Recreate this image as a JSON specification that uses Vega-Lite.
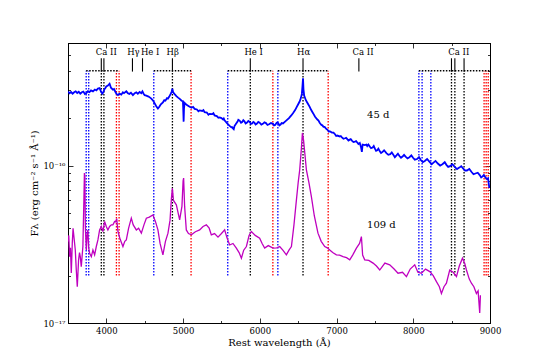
{
  "$schema": "https://vega.github.io/schema/vega-lite/v6.json",
  "width": 422,
  "height": 280,
  "autosize": {"type": "none"},
  "padding": {"left": 68, "top": 43, "right": 55, "bottom": 40},
  "background": "white",
  "config": {
    "view": {"stroke": "black", "strokeWidth": 1},
    "axis": {"labelFont": "DejaVu Serif", "titleFont": "DejaVu Serif", "labelFontSize": 8.5, "titleFontSize": 10, "titleFontWeight": "normal", "labelColor": "black", "titleColor": "black", "domainColor": "black", "tickColor": "black", "grid": false, "tickWidth": 0.8},
    "text": {"font": "DejaVu Serif", "color": "black"}
  },
  "datasets": {
    "blueV": [{"wl": 3737}, {"wl": 3770}, {"wl": 4618}, {"wl": 5582}, {"wl": 6235}, {"wl": 8073}, {"wl": 8115}, {"wl": 8229}],
    "blackV": [{"wl": 3934}, {"wl": 3968}, {"wl": 4861}, {"wl": 5876}, {"wl": 6563}, {"wl": 8498}, {"wl": 8542}, {"wl": 8662}],
    "redV": [{"wl": 4131}, {"wl": 4166}, {"wl": 5104}, {"wl": 6170}, {"wl": 6891}, {"wl": 8923}, {"wl": 8950}, {"wl": 8977}],
    "bars": [{"x1": 3737, "x2": 4166}, {"x1": 4618, "x2": 5104}, {"x1": 5582, "x2": 6170}, {"x1": 6235, "x2": 6891}, {"x1": 8073, "x2": 9000}],
    "ids": [{"wl": 3934}, {"wl": 3968}, {"wl": 4340}, {"wl": 4471}, {"wl": 4861}, {"wl": 5876}, {"wl": 6563}, {"wl": 7291}, {"wl": 8498}, {"wl": 8542}, {"wl": 8662}],
    "labels": [{"t": "Ca II", "wl": 3999}, {"t": "Hγ", "wl": 4353}, {"t": "He I", "wl": 4571}, {"t": "Hβ", "wl": 4864}, {"t": "He I", "wl": 5920}, {"t": "Hα", "wl": 6571}, {"t": "Ca II", "wl": 7346}, {"t": "Ca II", "wl": 8594}],
    "epochs": [{"t": "45 d", "wl": 7543, "f": 2.1e-16}, {"t": "109 d", "wl": 7585, "f": 0.42e-16}],
    "s45": [
      {"wl": 3500, "f": 2.95e-16}, {"wl": 3520, "f": 2.88e-16}, {"wl": 3540, "f": 2.93e-16}, {"wl": 3560, "f": 2.86e-16}, {"wl": 3580, "f": 2.92e-16}, {"wl": 3600, "f": 2.96e-16}, {"wl": 3620, "f": 2.89e-16}, {"wl": 3640, "f": 2.94e-16}, {"wl": 3660, "f": 2.86e-16}, {"wl": 3680, "f": 2.92e-16}, {"wl": 3700, "f": 2.95e-16}, {"wl": 3720, "f": 2.85e-16}, {"wl": 3739, "f": 2.89e-16}, {"wl": 3760, "f": 2.97e-16}, {"wl": 3780, "f": 2.93e-16}, {"wl": 3800, "f": 3.00e-16}, {"wl": 3825, "f": 2.96e-16}, {"wl": 3850, "f": 3.04e-16}, {"wl": 3870, "f": 3.00e-16}, {"wl": 3890, "f": 3.08e-16}, {"wl": 3912, "f": 3.10e-16}, {"wl": 3930, "f": 2.95e-16}, {"wl": 3947, "f": 2.86e-16}, {"wl": 3960, "f": 2.92e-16}, {"wl": 3975, "f": 3.05e-16}, {"wl": 3990, "f": 3.12e-16}, {"wl": 3999, "f": 3.18e-16}, {"wl": 4020, "f": 3.22e-16}, {"wl": 4042, "f": 3.31e-16}, {"wl": 4060, "f": 3.12e-16}, {"wl": 4085, "f": 3.03e-16}, {"wl": 4100, "f": 3.06e-16}, {"wl": 4120, "f": 2.92e-16}, {"wl": 4135, "f": 2.84e-16}, {"wl": 4151, "f": 2.80e-16}, {"wl": 4170, "f": 2.86e-16}, {"wl": 4195, "f": 2.82e-16}, {"wl": 4215, "f": 2.92e-16}, {"wl": 4230, "f": 2.88e-16}, {"wl": 4260, "f": 2.96e-16}, {"wl": 4280, "f": 2.88e-16}, {"wl": 4300, "f": 2.85e-16}, {"wl": 4320, "f": 2.90e-16}, {"wl": 4346, "f": 2.80e-16}, {"wl": 4370, "f": 2.88e-16}, {"wl": 4390, "f": 2.92e-16}, {"wl": 4410, "f": 2.86e-16}, {"wl": 4434, "f": 2.93e-16}, {"wl": 4455, "f": 2.88e-16}, {"wl": 4470, "f": 2.96e-16}, {"wl": 4485, "f": 2.86e-16}, {"wl": 4499, "f": 2.80e-16}, {"wl": 4520, "f": 2.78e-16}, {"wl": 4550, "f": 2.74e-16}, {"wl": 4570, "f": 2.70e-16}, {"wl": 4586, "f": 2.66e-16}, {"wl": 4610, "f": 2.58e-16}, {"wl": 4630, "f": 2.48e-16}, {"wl": 4650, "f": 2.38e-16}, {"wl": 4672, "f": 2.30e-16}, {"wl": 4690, "f": 2.36e-16}, {"wl": 4710, "f": 2.45e-16}, {"wl": 4737, "f": 2.52e-16}, {"wl": 4755, "f": 2.60e-16}, {"wl": 4770, "f": 2.58e-16}, {"wl": 4790, "f": 2.68e-16}, {"wl": 4803, "f": 2.66e-16}, {"wl": 4820, "f": 2.74e-16}, {"wl": 4840, "f": 2.86e-16}, {"wl": 4852, "f": 2.95e-16}, {"wl": 4860, "f": 3.08e-16}, {"wl": 4870, "f": 2.92e-16}, {"wl": 4890, "f": 2.84e-16}, {"wl": 4912, "f": 2.76e-16}, {"wl": 4935, "f": 2.70e-16}, {"wl": 4960, "f": 2.64e-16}, {"wl": 4980, "f": 2.58e-16}, {"wl": 4998, "f": 2.56e-16}, {"wl": 5003, "f": 2.20e-16}, {"wl": 5007, "f": 1.90e-16}, {"wl": 5012, "f": 2.30e-16}, {"wl": 5020, "f": 2.50e-16}, {"wl": 5050, "f": 2.42e-16}, {"wl": 5085, "f": 2.36e-16}, {"wl": 5110, "f": 2.33e-16}, {"wl": 5130, "f": 2.36e-16}, {"wl": 5150, "f": 2.29e-16}, {"wl": 5180, "f": 2.27e-16}, {"wl": 5200, "f": 2.21e-16}, {"wl": 5216, "f": 2.24e-16}, {"wl": 5250, "f": 2.22e-16}, {"wl": 5265, "f": 2.25e-16}, {"wl": 5280, "f": 2.18e-16}, {"wl": 5310, "f": 2.17e-16}, {"wl": 5330, "f": 2.10e-16}, {"wl": 5346, "f": 2.13e-16}, {"wl": 5380, "f": 2.12e-16}, {"wl": 5395, "f": 2.15e-16}, {"wl": 5410, "f": 2.08e-16}, {"wl": 5440, "f": 2.06e-16}, {"wl": 5460, "f": 2.01e-16}, {"wl": 5477, "f": 2.02e-16}, {"wl": 5500, "f": 2.00e-16}, {"wl": 5520, "f": 1.96e-16}, {"wl": 5530, "f": 1.99e-16}, {"wl": 5540, "f": 1.94e-16}, {"wl": 5564, "f": 1.88e-16}, {"wl": 5575, "f": 1.85e-16}, {"wl": 5590, "f": 1.82e-16}, {"wl": 5610, "f": 1.78e-16}, {"wl": 5630, "f": 1.75e-16}, {"wl": 5640, "f": 1.75e-16}, {"wl": 5650, "f": 1.72e-16}, {"wl": 5660, "f": 1.70e-16}, {"wl": 5670, "f": 1.78e-16}, {"wl": 5690, "f": 1.84e-16}, {"wl": 5710, "f": 1.90e-16}, {"wl": 5720, "f": 1.95e-16}, {"wl": 5737, "f": 1.93e-16}, {"wl": 5755, "f": 1.87e-16}, {"wl": 5770, "f": 1.89e-16}, {"wl": 5785, "f": 1.94e-16}, {"wl": 5800, "f": 1.91e-16}, {"wl": 5815, "f": 1.85e-16}, {"wl": 5830, "f": 1.87e-16}, {"wl": 5850, "f": 1.92e-16}, {"wl": 5868, "f": 1.89e-16}, {"wl": 5885, "f": 1.84e-16}, {"wl": 5900, "f": 1.85e-16}, {"wl": 5915, "f": 1.89e-16}, {"wl": 5930, "f": 1.87e-16}, {"wl": 5945, "f": 1.82e-16}, {"wl": 5960, "f": 1.84e-16}, {"wl": 5980, "f": 1.89e-16}, {"wl": 5998, "f": 1.87e-16}, {"wl": 6020, "f": 1.82e-16}, {"wl": 6040, "f": 1.84e-16}, {"wl": 6060, "f": 1.88e-16}, {"wl": 6080, "f": 1.86e-16}, {"wl": 6100, "f": 1.81e-16}, {"wl": 6120, "f": 1.83e-16}, {"wl": 6145, "f": 1.86e-16}, {"wl": 6172, "f": 1.84e-16}, {"wl": 6185, "f": 1.80e-16}, {"wl": 6200, "f": 1.81e-16}, {"wl": 6220, "f": 1.87e-16}, {"wl": 6240, "f": 1.86e-16}, {"wl": 6255, "f": 1.80e-16}, {"wl": 6270, "f": 1.82e-16}, {"wl": 6285, "f": 1.86e-16}, {"wl": 6302, "f": 1.85e-16}, {"wl": 6340, "f": 1.92e-16}, {"wl": 6380, "f": 2.00e-16}, {"wl": 6410, "f": 2.08e-16}, {"wl": 6432, "f": 2.15e-16}, {"wl": 6460, "f": 2.25e-16}, {"wl": 6480, "f": 2.35e-16}, {"wl": 6500, "f": 2.45e-16}, {"wl": 6519, "f": 2.55e-16}, {"wl": 6535, "f": 2.68e-16}, {"wl": 6548, "f": 2.85e-16}, {"wl": 6556, "f": 3.20e-16}, {"wl": 6563, "f": 3.58e-16}, {"wl": 6569, "f": 3.05e-16}, {"wl": 6578, "f": 2.78e-16}, {"wl": 6600, "f": 2.60e-16}, {"wl": 6625, "f": 2.48e-16}, {"wl": 6650, "f": 2.36e-16}, {"wl": 6670, "f": 2.25e-16}, {"wl": 6694, "f": 2.15e-16}, {"wl": 6720, "f": 2.04e-16}, {"wl": 6750, "f": 1.96e-16}, {"wl": 6765, "f": 1.93e-16}, {"wl": 6780, "f": 1.87e-16}, {"wl": 6803, "f": 1.81e-16}, {"wl": 6815, "f": 1.80e-16}, {"wl": 6830, "f": 1.76e-16}, {"wl": 6845, "f": 1.76e-16}, {"wl": 6860, "f": 1.72e-16}, {"wl": 6885, "f": 1.68e-16}, {"wl": 6900, "f": 1.64e-16}, {"wl": 6911, "f": 1.65e-16}, {"wl": 6940, "f": 1.62e-16}, {"wl": 6960, "f": 1.62e-16}, {"wl": 6980, "f": 1.58e-16}, {"wl": 6995, "f": 1.54e-16}, {"wl": 7010, "f": 1.55e-16}, {"wl": 7042, "f": 1.53e-16}, {"wl": 7055, "f": 1.54e-16}, {"wl": 7070, "f": 1.51e-16}, {"wl": 7090, "f": 1.48e-16}, {"wl": 7110, "f": 1.49e-16}, {"wl": 7125, "f": 1.50e-16}, {"wl": 7140, "f": 1.47e-16}, {"wl": 7155, "f": 1.44e-16}, {"wl": 7172, "f": 1.46e-16}, {"wl": 7185, "f": 1.47e-16}, {"wl": 7200, "f": 1.44e-16}, {"wl": 7220, "f": 1.41e-16}, {"wl": 7240, "f": 1.42e-16}, {"wl": 7255, "f": 1.43e-16}, {"wl": 7270, "f": 1.40e-16}, {"wl": 7285, "f": 1.37e-16}, {"wl": 7303, "f": 1.39e-16}, {"wl": 7320, "f": 1.30e-16}, {"wl": 7330, "f": 1.22e-16}, {"wl": 7340, "f": 1.36e-16}, {"wl": 7370, "f": 1.35e-16}, {"wl": 7390, "f": 1.36e-16}, {"wl": 7400, "f": 1.33e-16}, {"wl": 7415, "f": 1.36e-16}, {"wl": 7433, "f": 1.32e-16}, {"wl": 7450, "f": 1.29e-16}, {"wl": 7470, "f": 1.30e-16}, {"wl": 7485, "f": 1.33e-16}, {"wl": 7500, "f": 1.28e-16}, {"wl": 7515, "f": 1.24e-16}, {"wl": 7530, "f": 1.25e-16}, {"wl": 7545, "f": 1.28e-16}, {"wl": 7564, "f": 1.23e-16}, {"wl": 7580, "f": 1.20e-16}, {"wl": 7600, "f": 1.22e-16}, {"wl": 7620, "f": 1.25e-16}, {"wl": 7650, "f": 1.20e-16}, {"wl": 7675, "f": 1.17e-16}, {"wl": 7700, "f": 1.18e-16}, {"wl": 7720, "f": 1.21e-16}, {"wl": 7740, "f": 1.17e-16}, {"wl": 7760, "f": 1.13e-16}, {"wl": 7781, "f": 1.16e-16}, {"wl": 7800, "f": 1.19e-16}, {"wl": 7820, "f": 1.15e-16}, {"wl": 7840, "f": 1.12e-16}, {"wl": 7860, "f": 1.14e-16}, {"wl": 7880, "f": 1.17e-16}, {"wl": 7900, "f": 1.14e-16}, {"wl": 7925, "f": 1.11e-16}, {"wl": 7950, "f": 1.13e-16}, {"wl": 7975, "f": 1.16e-16}, {"wl": 7997, "f": 1.12e-16}, {"wl": 8020, "f": 1.09e-16}, {"wl": 8050, "f": 1.10e-16}, {"wl": 8075, "f": 1.13e-16}, {"wl": 8100, "f": 1.08e-16}, {"wl": 8125, "f": 1.05e-16}, {"wl": 8150, "f": 1.07e-16}, {"wl": 8180, "f": 1.10e-16}, {"wl": 8215, "f": 1.05e-16}, {"wl": 8240, "f": 1.02e-16}, {"wl": 8260, "f": 1.04e-16}, {"wl": 8290, "f": 1.07e-16}, {"wl": 8320, "f": 1.03e-16}, {"wl": 8350, "f": 1.00e-16}, {"wl": 8380, "f": 1.02e-16}, {"wl": 8410, "f": 1.05e-16}, {"wl": 8432, "f": 1.01e-16}, {"wl": 8455, "f": 0.98e-16}, {"wl": 8480, "f": 0.99e-16}, {"wl": 8510, "f": 1.02e-16}, {"wl": 8540, "f": 0.98e-16}, {"wl": 8570, "f": 0.95e-16}, {"wl": 8600, "f": 0.97e-16}, {"wl": 8625, "f": 0.99e-16}, {"wl": 8649, "f": 0.96e-16}, {"wl": 8675, "f": 0.93e-16}, {"wl": 8700, "f": 0.93e-16}, {"wl": 8730, "f": 0.95e-16}, {"wl": 8760, "f": 0.91e-16}, {"wl": 8785, "f": 0.88e-16}, {"wl": 8810, "f": 0.89e-16}, {"wl": 8840, "f": 0.90e-16}, {"wl": 8866, "f": 0.87e-16}, {"wl": 8885, "f": 0.84e-16}, {"wl": 8900, "f": 0.85e-16}, {"wl": 8920, "f": 0.87e-16}, {"wl": 8940, "f": 0.84e-16}, {"wl": 8960, "f": 0.82e-16}, {"wl": 8975, "f": 0.83e-16}, {"wl": 8985, "f": 0.76e-16}, {"wl": 8992, "f": 0.72e-16}
    ],
    "s109": [
      {"wl": 3500, "f": 0.329e-16}, {"wl": 3510, "f": 0.36e-16}, {"wl": 3521, "f": 0.264e-16}, {"wl": 3532, "f": 0.30e-16}, {"wl": 3543, "f": 0.208e-16}, {"wl": 3556, "f": 0.323e-16}, {"wl": 3566, "f": 0.40e-16}, {"wl": 3577, "f": 0.354e-16}, {"wl": 3595, "f": 0.291e-16}, {"wl": 3608, "f": 0.217e-16}, {"wl": 3621, "f": 0.170e-16}, {"wl": 3638, "f": 0.252e-16}, {"wl": 3650, "f": 0.28e-16}, {"wl": 3660, "f": 0.264e-16}, {"wl": 3673, "f": 0.228e-16}, {"wl": 3694, "f": 0.306e-16}, {"wl": 3707, "f": 0.60e-16}, {"wl": 3714, "f": 0.895e-16}, {"wl": 3720, "f": 0.85e-16}, {"wl": 3726, "f": 0.41e-16}, {"wl": 3739, "f": 0.291e-16}, {"wl": 3749, "f": 0.36e-16}, {"wl": 3759, "f": 0.39e-16}, {"wl": 3770, "f": 0.30e-16}, {"wl": 3782, "f": 0.277e-16}, {"wl": 3804, "f": 0.264e-16}, {"wl": 3825, "f": 0.291e-16}, {"wl": 3847, "f": 0.271e-16}, {"wl": 3869, "f": 0.306e-16}, {"wl": 3890, "f": 0.337e-16}, {"wl": 3912, "f": 0.390e-16}, {"wl": 3934, "f": 0.410e-16}, {"wl": 3955, "f": 0.381e-16}, {"wl": 3977, "f": 0.441e-16}, {"wl": 3999, "f": 0.410e-16}, {"wl": 4020, "f": 0.390e-16}, {"wl": 4042, "f": 0.410e-16}, {"wl": 4065, "f": 0.420e-16}, {"wl": 4085, "f": 0.420e-16}, {"wl": 4108, "f": 0.441e-16}, {"wl": 4121, "f": 0.44e-16}, {"wl": 4135, "f": 0.46e-16}, {"wl": 4151, "f": 0.381e-16}, {"wl": 4180, "f": 0.34e-16}, {"wl": 4216, "f": 0.306e-16}, {"wl": 4240, "f": 0.33e-16}, {"wl": 4260, "f": 0.337e-16}, {"wl": 4290, "f": 0.40e-16}, {"wl": 4325, "f": 0.463e-16}, {"wl": 4350, "f": 0.42e-16}, {"wl": 4391, "f": 0.390e-16}, {"wl": 4420, "f": 0.40e-16}, {"wl": 4456, "f": 0.372e-16}, {"wl": 4490, "f": 0.42e-16}, {"wl": 4521, "f": 0.463e-16}, {"wl": 4560, "f": 0.47e-16}, {"wl": 4607, "f": 0.486e-16}, {"wl": 4640, "f": 0.44e-16}, {"wl": 4672, "f": 0.390e-16}, {"wl": 4700, "f": 0.32e-16}, {"wl": 4737, "f": 0.271e-16}, {"wl": 4770, "f": 0.33e-16}, {"wl": 4803, "f": 0.372e-16}, {"wl": 4830, "f": 0.45e-16}, {"wl": 4848, "f": 0.62e-16}, {"wl": 4860, "f": 0.718e-16}, {"wl": 4875, "f": 0.60e-16}, {"wl": 4912, "f": 0.563e-16}, {"wl": 4935, "f": 0.50e-16}, {"wl": 4955, "f": 0.452e-16}, {"wl": 4985, "f": 0.55e-16}, {"wl": 5000, "f": 0.80e-16}, {"wl": 5007, "f": 0.832e-16}, {"wl": 5020, "f": 0.55e-16}, {"wl": 5042, "f": 0.390e-16}, {"wl": 5070, "f": 0.37e-16}, {"wl": 5108, "f": 0.363e-16}, {"wl": 5160, "f": 0.38e-16}, {"wl": 5216, "f": 0.390e-16}, {"wl": 5260, "f": 0.41e-16}, {"wl": 5303, "f": 0.420e-16}, {"wl": 5340, "f": 0.40e-16}, {"wl": 5368, "f": 0.363e-16}, {"wl": 5410, "f": 0.37e-16}, {"wl": 5455, "f": 0.351e-16}, {"wl": 5500, "f": 0.37e-16}, {"wl": 5542, "f": 0.390e-16}, {"wl": 5570, "f": 0.35e-16}, {"wl": 5607, "f": 0.313e-16}, {"wl": 5650, "f": 0.32e-16}, {"wl": 5694, "f": 0.299e-16}, {"wl": 5730, "f": 0.28e-16}, {"wl": 5760, "f": 0.258e-16}, {"wl": 5790, "f": 0.29e-16}, {"wl": 5825, "f": 0.306e-16}, {"wl": 5860, "f": 0.36e-16}, {"wl": 5890, "f": 0.381e-16}, {"wl": 5940, "f": 0.36e-16}, {"wl": 5998, "f": 0.346e-16}, {"wl": 6030, "f": 0.32e-16}, {"wl": 6063, "f": 0.299e-16}, {"wl": 6110, "f": 0.31e-16}, {"wl": 6172, "f": 0.299e-16}, {"wl": 6220, "f": 0.30e-16}, {"wl": 6259, "f": 0.306e-16}, {"wl": 6300, "f": 0.29e-16}, {"wl": 6346, "f": 0.271e-16}, {"wl": 6380, "f": 0.29e-16}, {"wl": 6412, "f": 0.306e-16}, {"wl": 6445, "f": 0.42e-16}, {"wl": 6477, "f": 0.605e-16}, {"wl": 6500, "f": 0.78e-16}, {"wl": 6520, "f": 0.939e-16}, {"wl": 6540, "f": 1.25e-16}, {"wl": 6555, "f": 1.61e-16}, {"wl": 6570, "f": 1.45e-16}, {"wl": 6590, "f": 1.15e-16}, {"wl": 6607, "f": 0.939e-16}, {"wl": 6640, "f": 0.78e-16}, {"wl": 6672, "f": 0.635e-16}, {"wl": 6710, "f": 0.48e-16}, {"wl": 6758, "f": 0.372e-16}, {"wl": 6800, "f": 0.33e-16}, {"wl": 6846, "f": 0.306e-16}, {"wl": 6880, "f": 0.30e-16}, {"wl": 6911, "f": 0.291e-16}, {"wl": 6950, "f": 0.28e-16}, {"wl": 6998, "f": 0.271e-16}, {"wl": 7040, "f": 0.27e-16}, {"wl": 7084, "f": 0.264e-16}, {"wl": 7130, "f": 0.26e-16}, {"wl": 7172, "f": 0.252e-16}, {"wl": 7210, "f": 0.27e-16}, {"wl": 7259, "f": 0.299e-16}, {"wl": 7300, "f": 0.32e-16}, {"wl": 7324, "f": 0.354e-16}, {"wl": 7340, "f": 0.27e-16}, {"wl": 7367, "f": 0.252e-16}, {"wl": 7420, "f": 0.25e-16}, {"wl": 7476, "f": 0.240e-16}, {"wl": 7520, "f": 0.23e-16}, {"wl": 7563, "f": 0.217e-16}, {"wl": 7630, "f": 0.24e-16}, {"wl": 7693, "f": 0.234e-16}, {"wl": 7750, "f": 0.22e-16}, {"wl": 7801, "f": 0.207e-16}, {"wl": 7860, "f": 0.21e-16}, {"wl": 7911, "f": 0.197e-16}, {"wl": 7960, "f": 0.22e-16}, {"wl": 8019, "f": 0.234e-16}, {"wl": 8060, "f": 0.21e-16}, {"wl": 8106, "f": 0.207e-16}, {"wl": 8160, "f": 0.22e-16}, {"wl": 8215, "f": 0.212e-16}, {"wl": 8260, "f": 0.20e-16}, {"wl": 8302, "f": 0.183e-16}, {"wl": 8340, "f": 0.17e-16}, {"wl": 8367, "f": 0.154e-16}, {"wl": 8400, "f": 0.17e-16}, {"wl": 8432, "f": 0.179e-16}, {"wl": 8475, "f": 0.217e-16}, {"wl": 8520, "f": 0.21e-16}, {"wl": 8563, "f": 0.197e-16}, {"wl": 8600, "f": 0.23e-16}, {"wl": 8641, "f": 0.258e-16}, {"wl": 8670, "f": 0.24e-16}, {"wl": 8693, "f": 0.217e-16}, {"wl": 8730, "f": 0.19e-16}, {"wl": 8758, "f": 0.179e-16}, {"wl": 8790, "f": 0.17e-16}, {"wl": 8823, "f": 0.154e-16}, {"wl": 8845, "f": 0.16e-16}, {"wl": 8866, "f": 0.116e-16}, {"wl": 8875, "f": 0.15e-16}
    ]
  },
  "layer": [
    {
      "data": {"name": "blueV"},
      "mark": {"type": "rule", "color": "#0000ff", "strokeDash": [1.5, 1.5], "strokeWidth": 1.3, "clip": true},
      "encoding": {
        "x": {"field": "wl", "type": "quantitative", "scale": {"domain": [3500, 9000], "nice": false, "zero": false}, "axis": null},
        "y": {"datum": 2.0e-17, "type": "quantitative", "scale": {"type": "log", "domain": [1e-17, 6e-16], "nice": false}, "axis": null},
        "y2": {"datum": 4.0e-16}
      }
    },
    {
      "data": {"name": "blackV"},
      "mark": {"type": "rule", "color": "#000000", "strokeDash": [1.5, 1.5], "strokeWidth": 1.3, "clip": true},
      "encoding": {
        "x": {"field": "wl", "type": "quantitative", "axis": null},
        "y": {"datum": 2.0e-17, "type": "quantitative", "axis": null},
        "y2": {"datum": 4.0e-16}
      }
    },
    {
      "data": {"name": "redV"},
      "mark": {"type": "rule", "color": "#ff0000", "strokeDash": [1.5, 1.5], "strokeWidth": 1.3, "clip": true},
      "encoding": {
        "x": {"field": "wl", "type": "quantitative", "axis": null},
        "y": {"datum": 2.0e-17, "type": "quantitative", "axis": null},
        "y2": {"datum": 4.0e-16}
      }
    },
    {
      "data": {"name": "bars"},
      "mark": {"type": "rule", "color": "#000000", "strokeDash": [1.5, 1.5], "strokeWidth": 1.3, "clip": true},
      "encoding": {
        "x": {"field": "x1", "type": "quantitative", "axis": null},
        "x2": {"field": "x2"},
        "y": {"datum": 4.0e-16, "type": "quantitative", "axis": null}
      }
    },
    {
      "data": {"name": "ids"},
      "mark": {"type": "rule", "color": "#000000", "strokeWidth": 1.1},
      "encoding": {
        "x": {"field": "wl", "type": "quantitative", "axis": null},
        "y": {"datum": 4.8e-16, "type": "quantitative", "axis": null},
        "y2": {"datum": 3.95e-16}
      }
    },
    {
      "data": {"name": "labels"},
      "mark": {"type": "text", "fontSize": 8.5, "baseline": "middle", "align": "center"},
      "encoding": {
        "x": {"field": "wl", "type": "quantitative", "axis": null},
        "y": {"datum": 5.24e-16, "type": "quantitative", "axis": null},
        "text": {"field": "t"}
      }
    },
    {
      "data": {"name": "epochs"},
      "mark": {"type": "text", "fontSize": 10, "baseline": "middle", "align": "center"},
      "encoding": {
        "x": {"field": "wl", "type": "quantitative", "axis": null},
        "y": {"field": "f", "type": "quantitative", "axis": null},
        "text": {"field": "t"}
      }
    },
    {
      "data": {"name": "s45"},
      "mark": {"type": "line", "color": "#0000ff", "strokeWidth": 1.8, "clip": true},
      "encoding": {
        "x": {"field": "wl", "type": "quantitative", "axis": {
          "orient": "bottom", "title": "Rest wavelength (Å)", "titlePadding": 0,
          "values": [3500, 4000, 4500, 5000, 5500, 6000, 6500, 7000, 7500, 8000, 8500, 9000],
          "labelExpr": "datum.value % 1000 == 0 ? format(datum.value, 'd') : ''",
          "tickSize": {"condition": {"test": "datum.value % 1000 == 0", "value": -5}, "value": -2.5},
          "labelPadding": 8, "labelFlush": false, "labelOverlap": false
        }},
        "y": {"field": "f", "type": "quantitative", "axis": {
          "orient": "left", "title": "Fλ (erg cm⁻² s⁻¹ Å⁻¹)", "titlePadding": 3,
          "values": [1e-17, 2e-17, 3e-17, 4e-17, 5e-17, 6e-17, 7e-17, 8e-17, 9e-17, 1e-16, 2e-16, 3e-16, 4e-16, 5e-16, 6e-16],
          "labelExpr": "datum.value == 1e-16 ? '10⁻¹⁶' : (datum.value == 1e-17 ? '10⁻¹⁷' : '')",
          "tickSize": {"condition": {"test": "datum.value == 1e-16 || datum.value == 1e-17", "value": -5}, "value": -2.5},
          "labelPadding": 8, "labelOverlap": false, "labelFlush": false
        }}
      }
    },
    {
      "data": {"name": "s109"},
      "mark": {"type": "line", "color": "#bf00bf", "strokeWidth": 1.3, "clip": true},
      "encoding": {
        "x": {"field": "wl", "type": "quantitative", "axis": {
          "orient": "top", "title": null, "labels": false,
          "values": [3500, 4000, 4500, 5000, 5500, 6000, 6500, 7000, 7500, 8000, 8500, 9000],
          "tickSize": {"condition": {"test": "datum.value % 1000 == 0", "value": -5}, "value": -2.5}
        }},
        "y": {"field": "f", "type": "quantitative", "axis": {
          "orient": "right", "title": null, "labels": false,
          "values": [1e-17, 2e-17, 3e-17, 4e-17, 5e-17, 6e-17, 7e-17, 8e-17, 9e-17, 1e-16, 2e-16, 3e-16, 4e-16, 5e-16, 6e-16],
          "tickSize": {"condition": {"test": "datum.value == 1e-16 || datum.value == 1e-17", "value": -5}, "value": -2.5}
        }}
      }
    }
  ],
  "resolve": {"axis": {"x": "independent", "y": "independent"}}
}
